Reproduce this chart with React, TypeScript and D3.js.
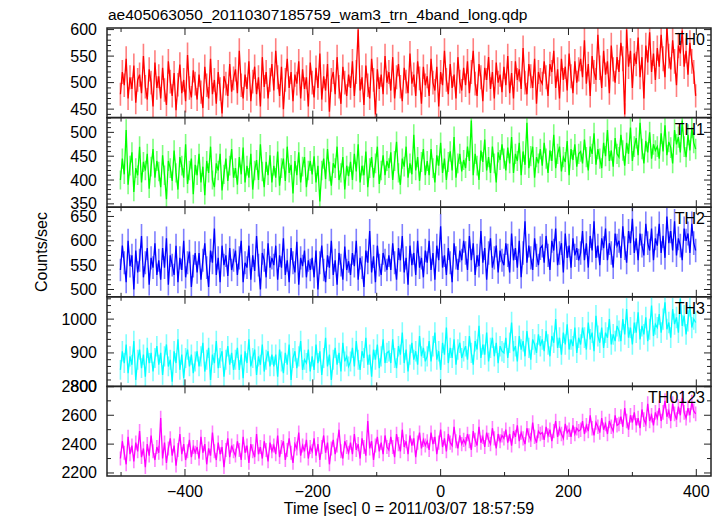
import React from "react";
import * as d3 from "d3";

// ---- data (1 point every 3 s from -501 s) ----
const T_START = -501;
const T_STEP = 3;

const TH0 = [
  478, 520, 495, 545, 470, 510, 488, 532, 462, 505, 515, 480, 550, 492, 468, 525, 500, 455, 538, 490,
  512, 470, 528, 486, 458, 540, 502, 475, 518, 448, 496, 534, 480, 505, 465, 552, 490, 472, 523, 498,
  468, 515, 482, 452, 530, 495, 470, 545, 478, 505, 460, 520, 488, 442, 512, 498, 475, 535, 483, 508,
  525, 480, 560, 495, 470, 515, 488, 540, 465, 502, 530, 478, 510, 455, 548, 492, 520, 470, 505, 535,
  485, 560, 510, 475, 530, 450, 505, 545, 490, 520, 465, 515, 498, 540, 470, 525, 488, 510, 455, 538,
  500, 472, 528, 490, 555, 468, 512, 485, 535, 445, 505, 520, 478, 548, 492, 460, 530, 500, 475, 515,
  490, 540, 475, 520, 600, 485, 510, 458, 532, 495, 470, 545, 505, 440, 525, 488, 515, 478, 550, 500,
  520, 485, 548, 470, 510, 535, 492, 465, 528, 502, 480, 555, 498, 515, 475, 540, 508, 460, 530, 495,
  512, 475, 545, 500, 485, 530, 455, 520, 495, 560, 505, 478, 535, 490, 515, 470, 548, 502, 485, 528,
  495, 540, 480, 520, 560, 498, 475, 535, 510, 465, 528, 505, 548, 488, 520, 470, 538, 500, 515, 482,
  530, 495, 550, 480, 518, 470, 540, 505, 525, 488, 565, 500, 478, 535, 512, 490, 545, 460, 520, 505,
  498, 540, 510, 475, 535, 520, 560, 490, 525, 470, 545, 505, 530, 485, 555, 512, 480, 540, 500, 525,
  545, 510, 580, 498, 535, 475, 550, 520, 505, 590, 528, 490, 560, 515, 540, 480, 570, 525, 500, 548,
  520, 575, 545, 440, 600, 530, 560, 490, 555, 535, 585, 510, 548, 470, 570, 538, 595, 520, 555, 505,
  565, 530, 590, 545, 510, 605, 550, 525, 580, 540, 495, 570, 555, 598, 530, 560, 515, 575, 540, 520,
  475,
];

const TH1 = [
  400, 445, 412, 505, 390, 430, 458, 375, 425, 410, 470, 395, 438, 420, 455, 382, 428, 465, 405, 440,
  418, 385, 452, 410, 360, 440, 425, 398, 462, 415, 380, 448, 430, 405, 475, 392, 420, 445, 370, 432,
  410, 455, 395, 428, 368, 440, 415, 470, 400, 385, 435, 420, 455, 378, 412, 445, 398, 430, 465, 405,
  425, 390, 448, 412, 468, 395, 430, 405, 455, 380, 420, 442, 400, 475, 418, 385, 438, 410, 452, 395,
  430, 405, 460, 388, 425, 445, 398, 470, 415, 432, 372, 440, 410, 458, 395, 428, 448, 385, 420, 440,
  412, 450, 395, 430, 355, 420, 445, 402, 465, 418, 388, 435, 425, 470, 400, 415, 448, 380, 430, 408,
  438, 400, 455, 418, 475, 395, 430, 410, 460, 385, 425, 448, 405, 435, 470, 392, 420, 452, 410, 440,
  425, 458, 400, 440, 480, 415, 390, 445, 428, 470, 405, 435, 412, 495, 420, 448, 398, 438, 465, 410,
  440, 410, 465, 425, 395, 452, 430, 478, 415, 445, 400, 438, 460, 420, 490, 405, 435, 455, 418, 442,
  425, 470, 440, 525, 410, 455, 430, 400, 462, 438, 485, 420, 448, 415, 470, 435, 395, 458, 442, 475,
  445, 420, 468, 435, 490, 415, 455, 440, 478, 410, 460, 432, 520, 425, 450, 470, 405, 448, 435, 465,
  430, 478, 445, 415, 462, 440, 495, 425, 455, 470, 418, 448, 438, 482, 410, 465, 442, 475, 428, 455,
  460, 435, 485, 448, 420, 470, 455, 498, 432, 465, 445, 425, 478, 450, 505, 440, 462, 428, 488, 455,
  448, 495, 462, 430, 478, 455, 510, 440, 470, 488, 452, 520, 465, 435, 482, 458, 500, 445, 475, 462,
  470, 445, 498, 460, 515, 452, 480, 468, 435, 505, 475, 490, 458, 525, 470, 448, 495, 462, 510, 478,
  465,
];

const TH2 = [
  540, 590, 555, 515, 600, 548, 570, 500, 580, 535, 560, 610, 525, 555, 585, 510, 565, 545, 595, 530,
  560, 520, 585, 545, 605, 510, 570, 550, 530, 590, 515, 565, 540, 600, 525, 555, 578, 505, 548, 575,
  535, 575, 520, 560, 595, 545, 505, 580, 555, 625, 530, 565, 515, 590, 550, 570, 528, 585, 540, 560,
  580, 530, 565, 600, 515, 555, 545, 590, 520, 570, 538, 610, 550, 500, 575, 560, 525, 595, 545, 565,
  550, 590, 520, 570, 545, 605, 530, 560, 515, 585, 555, 535, 598, 510, 565, 548, 580, 525, 560, 540,
  565, 525, 580, 500, 555, 590, 540, 515, 570, 545, 600, 530, 560, 510, 575, 550, 520, 588, 540, 558,
  530, 575, 548, 600, 520, 565, 545, 505, 580, 555, 620, 535, 568, 515, 590, 550, 530, 575, 560, 540,
  570, 540, 595, 555, 520, 585, 560, 610, 535, 565, 510, 590, 550, 575, 530, 600, 545, 565, 525, 580,
  555, 600, 540, 575, 520, 590, 560, 630, 545, 570, 530, 585, 555, 515, 595, 565, 540, 580, 560, 600,
  575, 540, 610, 560, 595, 530, 570, 548, 620, 555, 585, 520, 575, 605, 545, 565, 590, 535, 580, 560,
  550, 595, 570, 535, 615, 560, 585, 545, 600, 525, 575, 640, 555, 590, 565, 540, 605, 570, 550, 585,
  590, 555, 610, 570, 540, 600, 580, 625, 550, 575, 595, 535, 615, 565, 590, 545, 605, 570, 585, 560,
  575, 620, 560, 595, 545, 610, 580, 640, 565, 590, 550, 605, 585, 625, 560, 595, 575, 545, 615, 590,
  600, 565, 630, 585, 555, 620, 595, 645, 575, 605, 560, 615, 590, 570, 635, 595, 580, 625, 560, 605,
  590, 635, 575, 610, 565, 650, 595, 620, 580, 640, 570, 605, 590, 560, 625, 600, 615, 575, 635, 595,
  580,
];

const TH3 = [
  850, 905, 870, 925, 840, 890, 865, 935, 820, 880, 910, 855, 895, 830, 915, 870, 900, 845, 885, 920,
  865, 900, 835, 890, 925, 860, 880, 815, 905, 870, 940, 850, 895, 825, 885, 910, 860, 895, 840, 875,
  905, 860, 890, 930, 845, 880, 915, 820, 895, 870, 935, 855, 885, 905, 830, 880, 920, 865, 900, 850,
  880, 915, 850, 895, 825, 905, 870, 940, 860, 885, 910, 835, 890, 865, 925, 845, 880, 905, 860, 895,
  860, 895, 830, 910, 875, 840, 900, 865, 925, 820, 885, 905, 855, 890, 935, 850, 880, 870, 910, 845,
  890, 850, 925, 870, 905, 835, 885, 945, 860, 895, 820, 880, 915, 865, 900, 845, 930, 875, 890, 860,
  875, 915, 860, 935, 880, 850, 905, 885, 945, 865, 895, 830, 910, 880, 925, 855, 890, 940, 870, 900,
  905, 870, 940, 885, 855, 920, 895, 960, 870, 910, 845, 895, 930, 880, 905, 865, 950, 890, 915, 875,
  890, 935, 875, 920, 960, 880, 905, 850, 930, 895, 975, 870, 915, 885, 940, 865, 910, 930, 885, 905,
  920, 880, 950, 900, 865, 935, 910, 980, 885, 925, 895, 960, 875, 915, 945, 890, 930, 870, 920, 905,
  900, 945, 885, 930, 990, 905, 920, 875, 950, 910, 935, 890, 965, 915, 880, 940, 925, 900, 955, 920,
  940, 905, 965, 925, 890, 950, 930, 1000, 915, 945, 895, 960, 925, 985, 910, 940, 920, 975, 900, 945,
  925, 975, 945, 910, 990, 940, 960, 905, 1010, 950, 930, 975, 915, 960, 945, 1000, 925, 955, 935, 980,
  965, 935, 1000, 955, 1030, 945, 975, 925, 990, 960, 1020, 940, 980, 955, 1005, 935, 970, 1040, 950, 985,
  975, 1015, 960, 1000, 1050, 970, 990, 945, 1030, 985, 1005, 960, 1060, 980, 1010, 955, 995, 1040, 975, 1000,
  990,
];

const TH0123 = [
  2300, 2420, 2340, 2260, 2450, 2330, 2390, 2280, 2410, 2350, 2490, 2310, 2370, 2240, 2400, 2320, 2460, 2350, 2290, 2380,
  2340, 2580, 2300, 2410, 2270, 2370, 2440, 2320, 2390, 2250, 2360, 2470, 2330, 2400, 2290, 2350, 2430, 2310, 2380, 2340,
  2380, 2300, 2450, 2340, 2400, 2260, 2370, 2320, 2480, 2350, 2290, 2410, 2330, 2380, 2240, 2360, 2440, 2310, 2390, 2350,
  2320, 2420, 2360, 2290, 2450, 2340, 2390, 2270, 2400, 2350, 2310, 2470, 2330, 2380, 2300, 2420, 2360, 2280, 2410, 2350,
  2390, 2330, 2460, 2310, 2380, 2420, 2290, 2360, 2440, 2340, 2270, 2400, 2370, 2480, 2320, 2390, 2350, 2430, 2300, 2380,
  2350, 2440, 2320, 2400, 2290, 2380, 2460, 2340, 2410, 2260, 2370, 2430, 2330, 2390, 2500, 2350, 2300, 2420, 2380, 2340,
  2410, 2330, 2470, 2360, 2400, 2300, 2440, 2380, 2320, 2560, 2370, 2420, 2290, 2390, 2450, 2350, 2410, 2330, 2460, 2380,
  2360, 2450, 2380, 2310, 2470, 2400, 2350, 2500, 2380, 2420, 2330, 2460, 2390, 2440, 2310, 2410, 2480, 2370, 2430, 2390,
  2420, 2360, 2480, 2400, 2450, 2330, 2410, 2500, 2380, 2440, 2350, 2470, 2410, 2390, 2520, 2420, 2370, 2460, 2400, 2430,
  2400, 2470, 2420, 2360, 2490, 2430, 2390, 2520, 2410, 2450, 2380, 2480, 2430, 2400, 2510, 2440, 2370, 2470, 2420, 2460,
  2440, 2500, 2410, 2470, 2390, 2490, 2450, 2530, 2420, 2480, 2440, 2400, 2510, 2460, 2430, 2550, 2450, 2410, 2490, 2470,
  2480, 2430, 2520, 2460, 2500, 2420, 2490, 2560, 2450, 2510, 2470, 2440, 2540, 2480, 2500, 2450, 2530, 2470, 2510, 2490,
  2500, 2560, 2470, 2530, 2490, 2600, 2510, 2460, 2550, 2520, 2480, 2580, 2500, 2540, 2470, 2560, 2520, 2490, 2600, 2530,
  2540, 2590, 2520, 2650, 2560, 2500, 2600, 2550, 2620, 2530, 2580, 2510, 2640, 2570, 2540, 2680, 2560, 2600, 2530, 2620,
  2580, 2650, 2560, 2620, 2700, 2590, 2630, 2560, 2680, 2610, 2570, 2660, 2600, 2720, 2620, 2580, 2650, 2600, 2690, 2630,
  2610,
];

const PANEL_NAMES = ["TH0", "TH1", "TH2", "TH3", "TH0123"];
const PANEL_SERIES = [TH0, TH1, TH2, TH3, TH0123];
const PANEL_COLORS = ["#ff0000", "#00ff00", "#0000ff", "#00ffff", "#ff00ff"];
const PANEL_DOMAINS: [number, number][] = [
  [434, 603],
  [343, 531],
  [485, 669],
  [801, 1066],
  [2179, 2800],
];
const PANEL_MAJOR = [
  [450, 500, 550, 600],
  [350, 400, 450, 500],
  [500, 550, 600, 650],
  [800, 900, 1000],
  [2200, 2400, 2600, 2800],
];
const PANEL_MINOR_STEP = [10, 10, 10, 20, 100];

const X_DOMAIN: [number, number] = [-522, 423];
const X_MAJOR = [-400, -200, 0, 200, 400];
const X_MINOR = [-500, -300, -100, 100, 300];

const TITLE = "ae405063050_20110307185759_wam3_trn_4band_long.qdp";
const X_LABEL = "Time [sec] 0 = 2011/03/07 18:57:59";
const Y_LABEL = "Counts/sec";

export default function App() {
  const W = 723;
  const H = 516;
  const left = 107;
  const right = 711;
  const top = 28;
  const bottom = 476;
  const nP = PANEL_NAMES.length;
  const pH = (bottom - top) / nP;
  const font = "'Liberation Sans', Arial, Helvetica, sans-serif";
  const frame = "#222";

  const x = d3.scaleLinear().domain(X_DOMAIN).range([left, right]);

  return (
    <svg
      width={W}
      height={H}
      style={{ position: "absolute", left: 0, top: 0, background: "#fff" }}
      fontFamily={font}
    >
      <defs>
        {PANEL_NAMES.map((n, i) => (
          <clipPath id={`clip${i}`} key={n}>
            <rect x={left} y={top + i * pH} width={right - left} height={pH} />
          </clipPath>
        ))}
      </defs>
      <rect x={0} y={0} width={W} height={H} fill="#fff" />
      <text x={108} y={20} fontSize={15.5} fill="#000">
        {TITLE}
      </text>
      {PANEL_NAMES.map((name, i) => {
        const y0 = top + i * pH;
        const y1 = y0 + pH;
        const y = d3.scaleLinear().domain(PANEL_DOMAINS[i]).range([y1, y0]);
        const vals = PANEL_SERIES[i];
        const pts = vals.map((v, k) => ({ t: T_START + k * T_STEP, v }));
        const line = d3
          .line<{ t: number; v: number }>()
          .x((d) => x(d.t))
          .y((d) => y(d.v));
        const dom = PANEL_DOMAINS[i];
        const minors = d3
          .range(Math.ceil(dom[0] / PANEL_MINOR_STEP[i]) * PANEL_MINOR_STEP[i], dom[1], PANEL_MINOR_STEP[i])
          .filter((v) => !PANEL_MAJOR[i].includes(v));
        const color = PANEL_COLORS[i];
        return (
          <g key={name}>
            <g clipPath={`url(#clip${i})`}>
              {pts.map((p, k) => {
                const e = Math.sqrt(p.v);
                return (
                  <line
                    key={k}
                    x1={x(p.t)}
                    x2={x(p.t)}
                    y1={y(p.v - e)}
                    y2={y(p.v + e)}
                    stroke={color}
                    strokeOpacity={0.5}
                    strokeWidth={1.6}
                  />
                );
              })}
              <path d={line(pts) || ""} fill="none" stroke={color} strokeWidth={1.3} />
            </g>
            {/* y ticks */}
            {PANEL_MAJOR[i].map((v) => (
              <g key={`M${v}`}>
                {y(v) >= y0 - 0.5 && y(v) <= y1 + 0.5 && (
                  <>
                    <line x1={left} x2={left + 7} y1={y(v)} y2={y(v)} stroke={frame} strokeWidth={1} />
                    <line x1={right} x2={right - 7} y1={y(v)} y2={y(v)} stroke={frame} strokeWidth={1} />
                  </>
                )}
                <text
                  x={97}
                  y={Math.min(Math.max(y(v), y0), y1)}
                  fontSize={16}
                  textAnchor="end"
                  dominantBaseline="central"
                  fill="#000"
                >
                  {v}
                </text>
              </g>
            ))}
            {minors.map((v) => (
              <g key={`m${v}`}>
                <line x1={left} x2={left + 4} y1={y(v)} y2={y(v)} stroke={frame} strokeWidth={1} />
                <line x1={right} x2={right - 4} y1={y(v)} y2={y(v)} stroke={frame} strokeWidth={1} />
              </g>
            ))}
            {/* x ticks top & bottom */}
            {X_MAJOR.map((t) => (
              <g key={`xM${t}`}>
                <line x1={x(t)} x2={x(t)} y1={y0} y2={y0 + 7} stroke={frame} strokeWidth={1} />
                <line x1={x(t)} x2={x(t)} y1={y1} y2={y1 - 7} stroke={frame} strokeWidth={1} />
              </g>
            ))}
            {X_MINOR.map((t) => (
              <g key={`xm${t}`}>
                <line x1={x(t)} x2={x(t)} y1={y0} y2={y0 + 4} stroke={frame} strokeWidth={1} />
                <line x1={x(t)} x2={x(t)} y1={y1} y2={y1 - 4} stroke={frame} strokeWidth={1} />
              </g>
            ))}
            <rect
              x={left}
              y={y0}
              width={right - left}
              height={pH}
              fill="none"
              stroke={frame}
              strokeWidth={1.5}
            />
            <text x={705} y={y0 + 17} fontSize={16} textAnchor="end" fill="#000">
              {name}
            </text>
          </g>
        );
      })}
      {X_MAJOR.map((t) => (
        <text key={t} x={x(t)} y={491} fontSize={16} textAnchor="middle" dominantBaseline="central" fill="#000">
          {t < 0 ? `\u2212${Math.abs(t)}` : t}
        </text>
      ))}
      <text x={(left + right) / 2} y={514} fontSize={16} textAnchor="middle" fill="#000">
        {X_LABEL}
      </text>
      <text
        transform={`translate(47,${(top + bottom) / 2}) rotate(-90)`}
        fontSize={16}
        textAnchor="middle"
        fill="#000"
      >
        {Y_LABEL}
      </text>
    </svg>
  );
}
